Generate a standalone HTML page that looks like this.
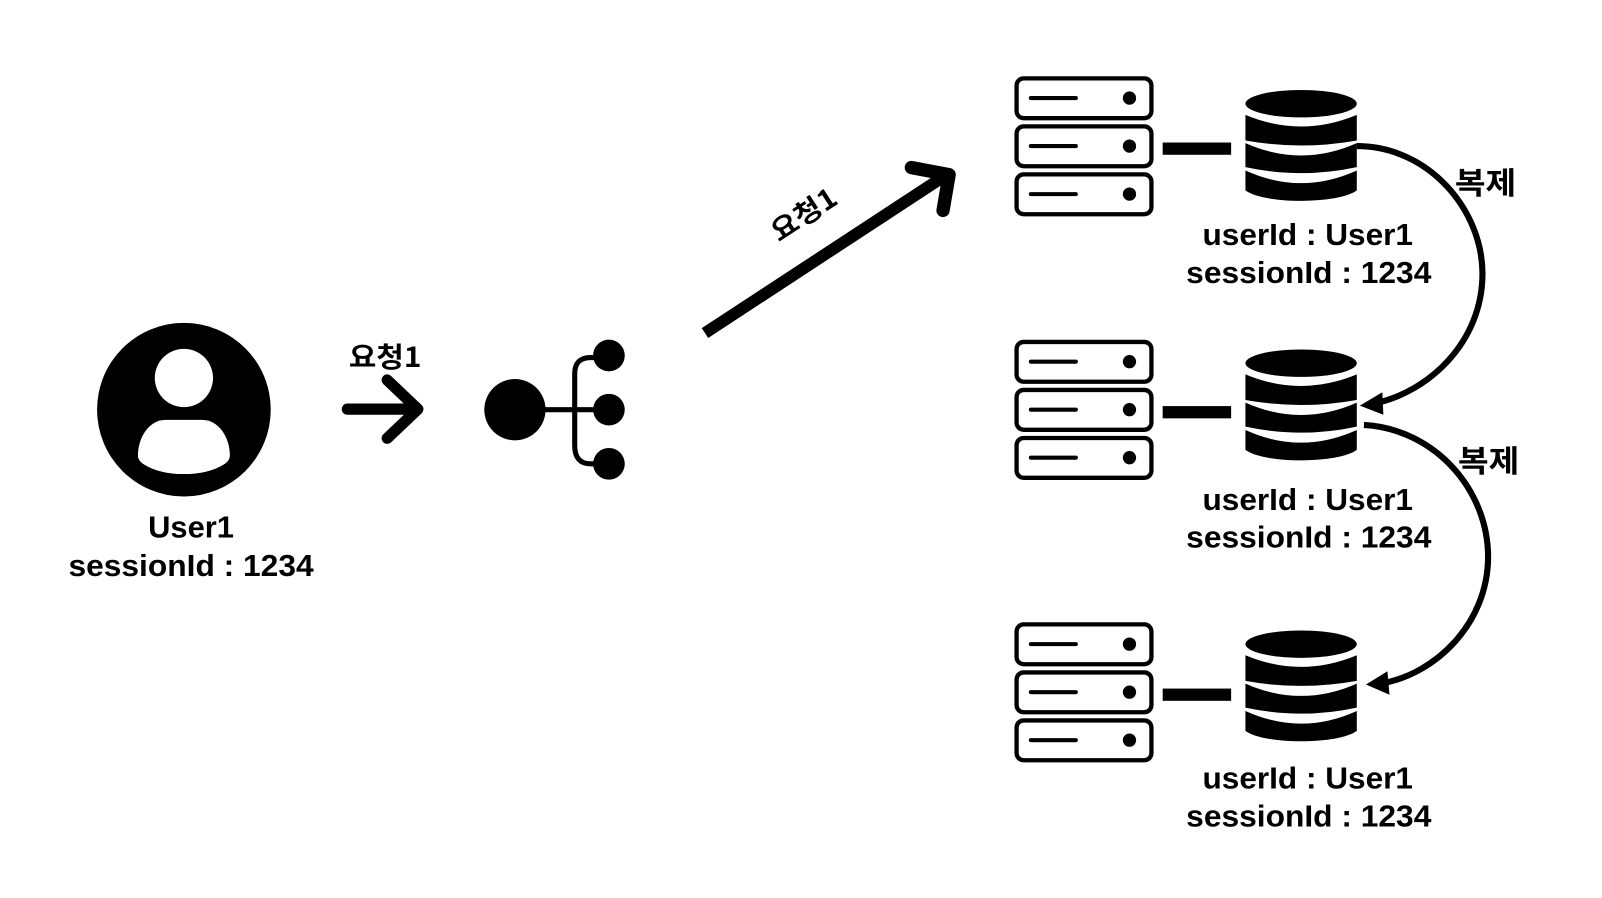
<!DOCTYPE html>
<html>
<head>
<meta charset="utf-8">
<style>
html,body{margin:0;padding:0;background:#fff;width:1602px;height:898px;overflow:hidden}
svg{display:block}
text{font-family:"Liberation Sans","Noto Sans CJK KR",sans-serif;font-weight:700;fill:#000;text-anchor:middle}
.k{font-family:"Noto Sans CJK KR",sans-serif}
</style>
</head>
<body>
<svg width="1602" height="898" viewBox="0 0 1568 879" preserveAspectRatio="none" xmlns="http://www.w3.org/2000/svg">
<defs>
<g id="server" fill="#fff" stroke="#000" stroke-width="4.2">
  <rect x="995" y="76.7" width="132" height="39" rx="7"/>
  <rect x="995" y="123.7" width="132" height="39" rx="7"/>
  <rect x="995" y="170.7" width="132" height="39" rx="7"/>
  <g stroke-linecap="round" stroke-width="4">
    <line x1="1009" y1="96" x2="1053" y2="96"/>
    <line x1="1009" y1="143" x2="1053" y2="143"/>
    <line x1="1009" y1="190" x2="1053" y2="190"/>
  </g>
  <g fill="#000" stroke="none">
    <circle cx="1105.5" cy="96" r="6.5"/>
    <circle cx="1105.5" cy="143" r="6.5"/>
    <circle cx="1105.5" cy="190" r="6.5"/>
    <rect x="1138" y="139.5" width="67" height="12"/>
  </g>
</g>
<g id="db" fill="#000">
  <ellipse cx="1273.5" cy="101.5" rx="54.5" ry="13.4"/>
  <path d="M1219,112.4 Q1273.5,135.2 1328,112.4 V137.5 Q1273.5,147.3 1219,137.5 Z"/>
  <path d="M1219,140.1 Q1273.5,164.3 1328,140.1 V163.6 Q1273.5,175.4 1219,163.6 Z"/>
  <path d="M1219,166.9 Q1273.5,191.7 1328,166.9 V186.4 C1310,200 1237,200 1219,186.4 Z"/>
</g>
</defs>

<!-- User -->
<circle cx="180" cy="401" r="85" fill="#000"/>
<ellipse cx="180" cy="370" rx="28.5" ry="28.5" fill="#fff"/>
<path d="M162,411 H198 C214,411 225,428 225,446 C225,449 223,452 220,454 C209,461 196,464 180,464 C164,464 151,461 140,454 C137,452 135,449 135,446 C135,428 146,411 162,411 Z" fill="#fff"/>
<text x="187" y="526" font-size="30" textLength="84" lengthAdjust="spacingAndGlyphs">User1</text>
<text x="187" y="564" font-size="30" textLength="240" lengthAdjust="spacingAndGlyphs">sessionId : 1234</text>

<!-- Small arrow -->
<text class="k" x="377" y="359" font-size="27" textLength="71" lengthAdjust="spacingAndGlyphs">요청1</text>
<g fill="none" stroke="#000" stroke-width="11" stroke-linecap="round" stroke-linejoin="round">
  <line x1="340" y1="400.5" x2="406" y2="400.5"/>
  <polyline points="379,372 409,400.5 379,429"/>
</g>

<!-- Load balancer -->
<circle cx="504" cy="401" r="30" fill="#000"/>
<circle cx="596" cy="348" r="15.5" fill="#000"/>
<circle cx="596" cy="401" r="15.5" fill="#000"/>
<circle cx="596" cy="454" r="15.5" fill="#000"/>
<g fill="none" stroke="#000" stroke-width="5">
  <line x1="530" y1="401" x2="590" y2="401"/>
  <path d="M590,350 H578 Q562.5,350 562.5,366 V436 Q562.5,454 578,454 H590"/>
</g>

<!-- Big arrow -->
<g fill="none" stroke="#000">
  <line x1="690" y1="326" x2="925" y2="172" stroke-width="11.5"/>
  <polyline points="892,164 929,171 923,206" stroke-width="13" stroke-linecap="round" stroke-linejoin="round"/>
</g>
<text class="k" x="0" y="0" font-size="27" textLength="71" lengthAdjust="spacingAndGlyphs" transform="translate(792,218) rotate(-33)">요청1</text>

<!-- Servers and DBs -->
<use href="#server"/>
<use href="#server" y="258"/>
<use href="#server" y="534.5"/>
<use href="#db"/>
<use href="#db" y="254"/>
<use href="#db" y="529"/>

<g font-size="30">
  <text x="1280" y="240" textLength="206" lengthAdjust="spacingAndGlyphs">userId : User1</text>
  <text x="1281" y="277" textLength="240" lengthAdjust="spacingAndGlyphs">sessionId : 1234</text>
  <text x="1280" y="499" textLength="206" lengthAdjust="spacingAndGlyphs">userId : User1</text>
  <text x="1281" y="536" textLength="240" lengthAdjust="spacingAndGlyphs">sessionId : 1234</text>
  <text x="1280" y="772" textLength="206" lengthAdjust="spacingAndGlyphs">userId : User1</text>
  <text x="1281" y="809" textLength="240" lengthAdjust="spacingAndGlyphs">sessionId : 1234</text>
</g>

<!-- Replication arcs -->
<g fill="none" stroke="#000" stroke-width="6">
  <path d="M1328,143 C1398,143 1451,205 1451,268 C1451,335 1398,384 1345,395"/>
  <path d="M1335,416 C1405,420 1456.5,480 1456.5,545 C1456.5,610 1405,660 1352,669"/>
</g>
<path d="M1331,397 L1353,384 L1354,406 Z" fill="#000"/>
<path d="M1337,670 L1358,657 L1360,680 Z" fill="#000"/>
<text class="k" x="1454" y="190" font-size="30" textLength="60" lengthAdjust="spacingAndGlyphs">복제</text>
<text class="k" x="1457" y="462" font-size="30" textLength="60" lengthAdjust="spacingAndGlyphs">복제</text>
</svg>
</body>
</html>
